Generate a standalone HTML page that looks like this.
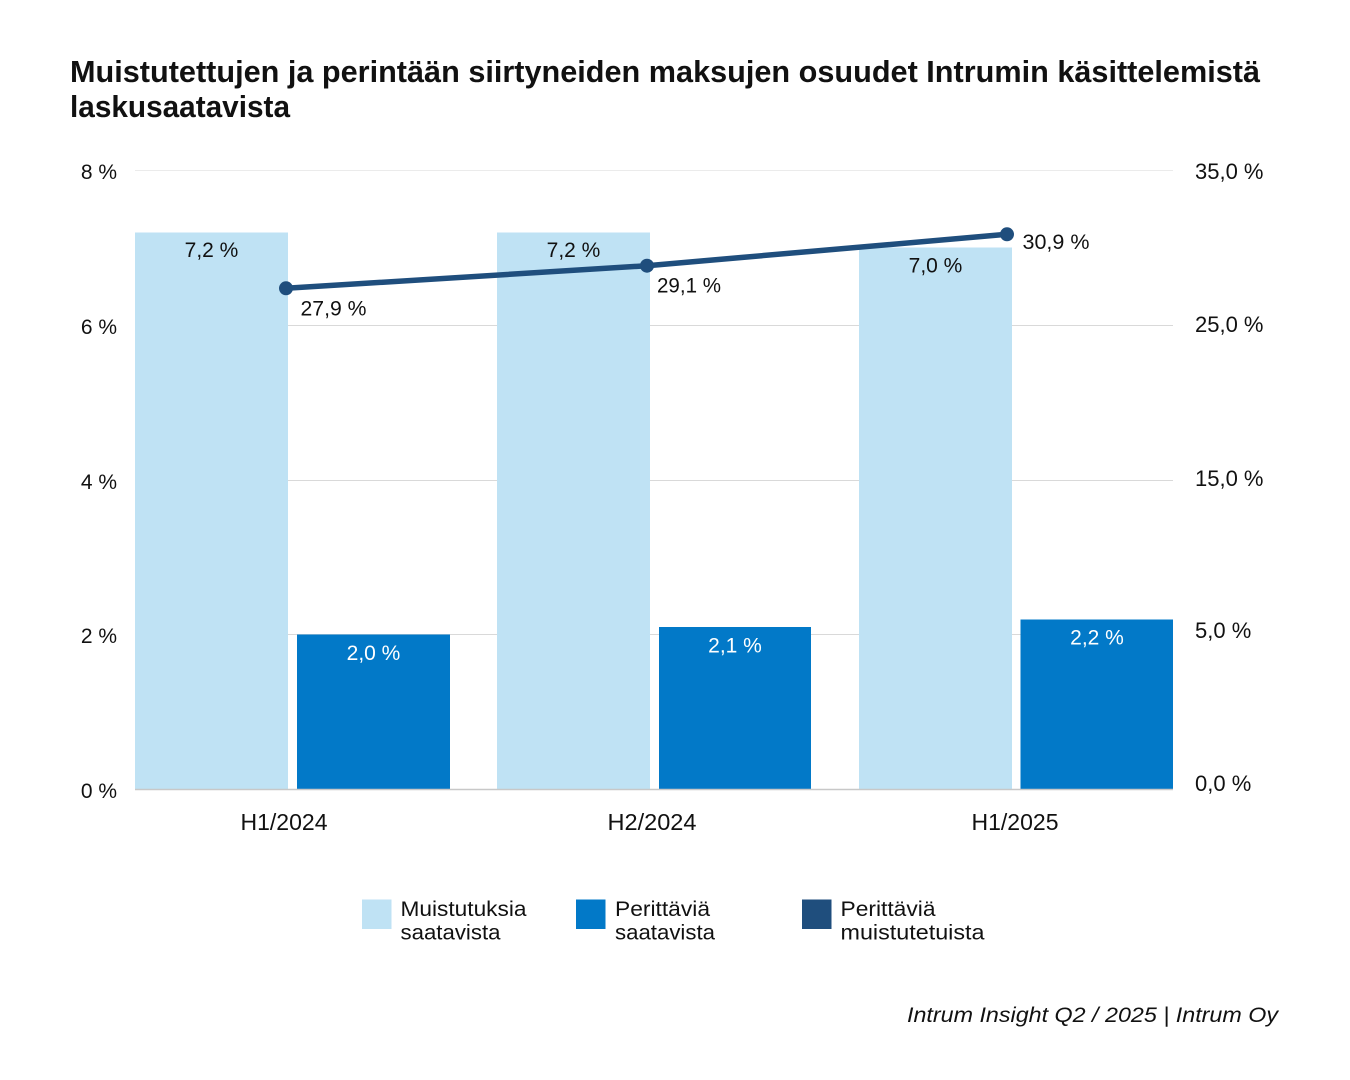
<!DOCTYPE html>
<html>
<head>
<meta charset="utf-8">
<style>
  html, body { margin: 0; padding: 0; background: #ffffff; }
  body { width: 1350px; height: 1080px; overflow: hidden; }
  svg { display: block; }
  text { font-family: "Liberation Sans", "DejaVu Sans", sans-serif; fill: #111111; }
</style>
</head>
<body>
<svg width="1350" height="1080" viewBox="0 0 1350 1080" xmlns="http://www.w3.org/2000/svg">
  <rect x="0" y="0" width="1350" height="1080" fill="#ffffff"/>

  <!-- Title -->
  <text x="70" y="82" font-size="31" font-weight="bold" textLength="1190" lengthAdjust="spacingAndGlyphs">Muistutettujen ja perintään siirtyneiden maksujen osuudet Intrumin käsittelemistä</text>
  <text x="70" y="117" font-size="31" font-weight="bold" textLength="220" lengthAdjust="spacingAndGlyphs">laskusaatavista</text>

  <!-- Gridlines -->
  <line x1="135" y1="170.5" x2="1173" y2="170.5" stroke="#ebebeb" stroke-width="1"/>
  <line x1="135" y1="325.5" x2="1173" y2="325.5" stroke="#d9d9d9" stroke-width="1"/>
  <line x1="135" y1="480.5" x2="1173" y2="480.5" stroke="#d9d9d9" stroke-width="1"/>
  <line x1="135" y1="634.5" x2="1173" y2="634.5" stroke="#d9d9d9" stroke-width="1"/>

  <!-- Bars: light -->
  <rect x="135" y="232.5" width="153" height="556.5" fill="#bfe2f4"/>
  <rect x="497" y="232.5" width="153" height="556.5" fill="#bfe2f4"/>
  <rect x="859" y="247.5" width="153" height="541.5" fill="#bfe2f4"/>
  <!-- Bars: mid blue -->
  <rect x="297" y="634.5" width="153" height="154.5" fill="#0279c8"/>
  <rect x="659" y="627" width="152" height="162" fill="#0279c8"/>
  <rect x="1020.5" y="619.5" width="152.5" height="169.5" fill="#0279c8"/>

  <!-- Baseline -->
  <line x1="135" y1="789.5" x2="1173" y2="789.5" stroke="#c8c8c8" stroke-width="1.5"/>

  <!-- Left axis labels -->
  <g font-size="21" text-anchor="end">
    <text x="117" y="179">8 %</text>
    <text x="117" y="334">6 %</text>
    <text x="117" y="489">4 %</text>
    <text x="117" y="643">2 %</text>
    <text x="117" y="798">0 %</text>
  </g>

  <!-- Right axis labels -->
  <g font-size="22">
    <text x="1195" y="179">35,0 %</text>
    <text x="1195" y="332">25,0 %</text>
    <text x="1195" y="486">15,0 %</text>
    <text x="1195" y="638">5,0 %</text>
    <text x="1195" y="791">0,0 %</text>
  </g>

  <!-- Category labels -->
  <g font-size="23" text-anchor="middle">
    <text x="284" y="830" textLength="87" lengthAdjust="spacingAndGlyphs">H1/2024</text>
    <text x="652" y="830" textLength="89" lengthAdjust="spacingAndGlyphs">H2/2024</text>
    <text x="1015" y="830" textLength="87" lengthAdjust="spacingAndGlyphs">H1/2025</text>
  </g>

  <!-- Bar value labels -->
  <g font-size="21" text-anchor="middle">
    <text x="211.5" y="257">7,2 %</text>
    <text x="573.5" y="257">7,2 %</text>
    <text x="935.5" y="272.5">7,0 %</text>
    <text x="373.5" y="660" fill="#ffffff" style="fill:#ffffff">2,0 %</text>
    <text x="735" y="652.5" fill="#ffffff" style="fill:#ffffff">2,1 %</text>
    <text x="1097" y="644.5" fill="#ffffff" style="fill:#ffffff">2,2 %</text>
  </g>

  <!-- Line series -->
  <polyline points="286,288.3 647,265.7 1007,234.3" fill="none" stroke="#1f4e7d" stroke-width="5.5" stroke-linejoin="round" stroke-linecap="round"/>
  <circle cx="286" cy="288.3" r="7" fill="#1f4e7d"/>
  <circle cx="647" cy="265.7" r="7" fill="#1f4e7d"/>
  <circle cx="1007" cy="234.3" r="7" fill="#1f4e7d"/>

  <!-- Line labels -->
  <g font-size="21">
    <text x="300.5" y="315.5" textLength="66" lengthAdjust="spacingAndGlyphs">27,9 %</text>
    <text x="657" y="292.5" textLength="64" lengthAdjust="spacingAndGlyphs">29,1 %</text>
    <text x="1022.5" y="249" textLength="67" lengthAdjust="spacingAndGlyphs">30,9 %</text>
  </g>

  <!-- Legend -->
  <rect x="362" y="899.5" width="29.5" height="29.5" fill="#bfe2f4"/>
  <rect x="576" y="899.5" width="29.5" height="29.5" fill="#0279c8"/>
  <rect x="802" y="899.5" width="29.5" height="29.5" fill="#1f4e7d"/>
  <g font-size="21">
    <text x="400.5" y="916" textLength="126" lengthAdjust="spacingAndGlyphs">Muistutuksia</text>
    <text x="400.5" y="939.5" textLength="100" lengthAdjust="spacingAndGlyphs">saatavista</text>
    <text x="615" y="916" textLength="95" lengthAdjust="spacingAndGlyphs">Perittäviä</text>
    <text x="615" y="939.5" textLength="100" lengthAdjust="spacingAndGlyphs">saatavista</text>
    <text x="840.5" y="916" textLength="95" lengthAdjust="spacingAndGlyphs">Perittäviä</text>
    <text x="840.5" y="939.5" textLength="144" lengthAdjust="spacingAndGlyphs">muistutetuista</text>
  </g>

  <!-- Source -->
  <text x="907" y="1022" font-size="21" font-style="italic" textLength="371" lengthAdjust="spacingAndGlyphs">Intrum Insight Q2 / 2025 | Intrum Oy</text>
</svg>
</body>
</html>
